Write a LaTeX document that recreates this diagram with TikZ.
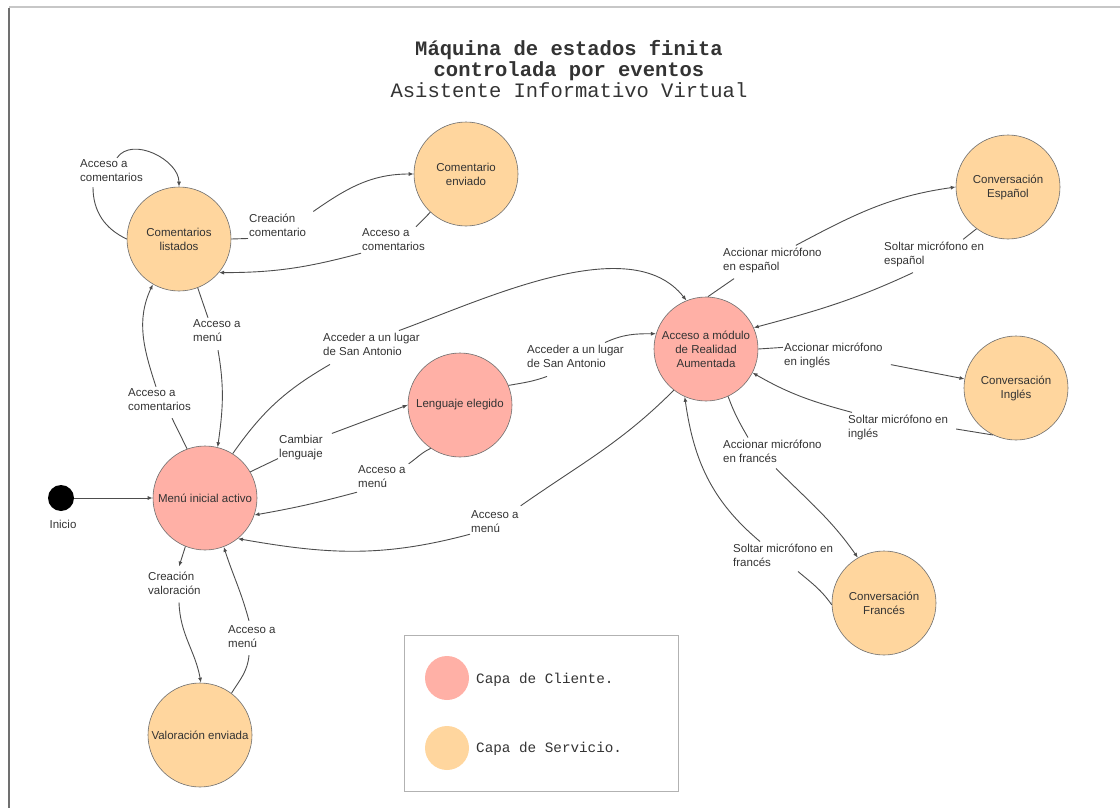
\documentclass[tikz,border=0pt]{standalone}
\usepackage{fontspec}
\setmainfont{Liberation Sans}
\newfontfamily\monofont{Liberation Mono}
\usetikzlibrary{arrows.meta}

\definecolor{cliente}{RGB}{255,176,166}
\definecolor{servicio}{RGB}{255,214,158}
\definecolor{ink}{RGB}{51,51,51}
\definecolor{wirecol}{RGB}{77,77,77}
\definecolor{rim}{RGB}{110,110,110}

\tikzset{
  state/.style={circle, draw=rim, line width=0.6pt, minimum size=104pt, inner sep=0pt,
    align=center, font=\fontsize{11.5}{14}\selectfont, text=ink},
  client/.style={state, fill=cliente},
  service/.style={state, fill=servicio},
  lbl/.style={font=\fontsize{11.5}{14}\selectfont, text=ink, align=left,
    inner xsep=1pt, inner ysep=2pt, anchor=west},
  conn/.style={draw=wirecol, line width=0.9pt},
  arr/.style={conn, -{Latex[length=5pt,width=4pt]}},
  legendtxt/.style={font=\monofont\fontsize{14.3}{16}\selectfont, text=ink, anchor=base west, inner sep=0pt},
}

\begin{document}
\begin{tikzpicture}[x=1pt,y=-1pt]
\useasboundingbox (0,0) rectangle (1120,808);

% page frame
\draw[color=black!22, line width=2pt] (9,7.5) -- (1120,7.5);
\draw[color=black!56, line width=1.2pt] (9,8) -- (9,808);

% title
\node[anchor=base, inner sep=0pt, text=ink, font=\monofont\bfseries\fontsize{20.5}{21}\selectfont] (t1) at (569,56) {Máquina de estados finita};
\node[anchor=base, inner sep=0pt, text=ink, font=\monofont\bfseries\fontsize{20.5}{21}\selectfont] (t2) at (569,76.5) {controlada por eventos};
\node[anchor=base, inner sep=0pt, text=ink, font=\monofont\fontsize{20.5}{21}\selectfont] (t3) at (569,97) {Asistente Informativo Virtual};

% states
\node[service] (cl)   at (179,239) {Comentarios\\listados};
\node[service] (ce)   at (466,174) {Comentario\\enviado};
\node[client]  (le)   at (460,405) {Lenguaje elegido};
\node[client]  (menu) at (205,498) {Menú inicial activo};
\node[service] (val)  at (200,735) {Valoración enviada};
\node[client]  (ra)   at (706,349) {Acceso a módulo\\de Realidad\\Aumentada};
\node[service] (esp)  at (1008,187) {Conversación\\Español};
\node[service] (ing)  at (1016,388) {Conversación\\Inglés};
\node[service] (fr)   at (884,603) {Conversación\\Francés};

% initial state
\node[circle, fill=black, minimum size=26pt, inner sep=0pt] (inicio) at (61,498) {};
\node[font=\fontsize{11.5}{14}\selectfont, text=ink, inner sep=0pt] (iniciotxt) at (63,524) {Inicio};
\draw[arr] (inicio) -- (menu);

% transition labels
\node[lbl] (A) at (79,171)  {Acceso a\\comentarios};
\node[lbl] (B) at (248,225) {Creación\\comentario};
\node[lbl] (C) at (361,240) {Acceso a\\comentarios};
\node[lbl] (D) at (192,331) {Acceso a\\menú};
\node[lbl] (E) at (127,400) {Acceso a\\comentarios};
\node[lbl] (F) at (322,344) {Acceder a un lugar\\de San Antonio};
\node[lbl] (G) at (278,448) {Cambiar\\lenguaje};
\node[lbl] (H) at (357,477) {Acceso a\\menú};
\node[lbl] (I) at (526,356) {Acceder a un lugar\\de San Antonio};
\node[lbl] (J) at (470,522) {Acceso a\\menú};
\node[lbl] (K) at (722,260) {Accionar micrófono\\en español};
\node[lbl] (L) at (883,254) {Soltar micrófono en\\español};
\node[lbl] (M) at (783,355) {Accionar micrófono\\en inglés};
\node[lbl] (N) at (847,427) {Soltar micrófono en\\inglés};
\node[lbl] (O) at (722,451) {Accionar micrófono\\en francés};
\node[lbl] (P) at (732,555) {Soltar micrófono en\\francés};
\node[lbl] (Q) at (147,583) {Creación\\valoración};
\node[lbl] (R) at (227,637) {Acceso a\\menú};

% Comentarios listados: self loop
\draw[conn] (cl.180) to[out=155, in=270] ([xshift=14pt, yshift=-3pt]A.south west);
\draw[arr]  ([xshift=38pt]A.north west) to[out=55, in=90] (cl.90);

% Comentarios listados <-> Comentario enviado
\draw[conn] (cl.0) -- (B.south west);
\draw[arr]  ([xshift=6pt]B.north east) to[out=35, in=180] (ce.180);
\draw[conn] (ce.227) -- ([xshift=-10pt]C.north east);
\draw[arr]  (C.south west) to[out=195, in=0] (cl.-40);

% Comentarios listados <-> Menú
\draw[conn] (cl.-69) -- ([xshift=16pt]D.north west);
\draw[arr]  ([xshift=26pt, yshift=-6pt]D.south west) to[out=-80, in=82] (menu.76);
\draw[conn] (menu.110) -- ([xshift=45pt, yshift=-5pt]E.south west);
\draw[arr]  ([xshift=29pt]E.north west) to[out=108, in=245] (cl.240);

% Menú -> Realidad Aumentada
\draw[conn] (menu.58) to[out=55, in=210] ([xshift=8pt, yshift=-7pt]F.south west);
\draw[arr]  ([xshift=-22pt]F.north east) to[out=20, in=128, looseness=0.8] (ra.112);

% Menú <-> Lenguaje elegido
\draw[conn] (menu.30) -- ([yshift=4pt]G.south west);
\draw[arr]  ([xshift=8pt]G.north east) -- (le.180);
\draw[conn] (le.236) to[out=205, in=35] ([xshift=2pt]H.north east);
\draw[arr]  ([yshift=-2pt]H.south west) to[out=195, in=10] (menu.-19);

% Lenguaje elegido -> Realidad Aumentada
\draw[conn] (le.22) to[out=10, in=200] ([xshift=21pt, yshift=-7pt]I.south west);
\draw[arr]  ([xshift=-20pt]I.north east) to[out=25, in=180] (ra.163);

% Realidad Aumentada -> Menú
\draw[conn] (ra.232) to[out=225, in=35] ([xshift=1pt, yshift=3pt]J.north east);
\draw[arr]  ([yshift=1pt]J.south west) to[out=195, in=-10] (menu.-51);

% Realidad Aumentada <-> Conversación Español
\draw[conn] (ra.88) -- ([xshift=12pt, yshift=-4pt]K.south west);
\draw[arr]  ([xshift=-27pt]K.north east) to[out=28, in=188] (esp.180);
\draw[conn] (esp.233) -- ([xshift=-22pt]L.north east);
\draw[arr]  ([xshift=30pt, yshift=-4pt]L.south west) to[out=205, in=15] (ra.24);

% Realidad Aumentada <-> Conversación Inglés
\draw[conn] (ra.0) -- ([yshift=-7pt]M.north west);
\draw[arr]  ([xshift=7pt, yshift=5pt]M.south east) -- (ing.170);
\draw[conn] (ing.244) -- ([xshift=7pt, yshift=-2pt]N.east);
\draw[arr]  ([xshift=5pt]N.north west) to[out=165, in=-30] (ra.-27);

% Realidad Aumentada <-> Conversación Francés
\draw[conn] (ra.-65) to[out=-70, in=120] ([xshift=26pt]O.north west);
\draw[arr]  ([xshift=54pt, yshift=-4pt]O.south west) to[out=-45, in=125] (fr.120);
\draw[conn] (fr.182) to[out=125, in=-40] ([xshift=66pt, yshift=-3pt]P.south west);
\draw[arr]  ([xshift=28pt]P.north west) to[out=140, in=-82] (ra.246);

% Menú <-> Valoración enviada
\draw[arr]  (menu.248) -- ([xshift=32pt, yshift=3pt]Q.north west);
\draw[arr]  ([xshift=32pt, yshift=-6pt]Q.south west) to[out=-88, in=100] (val.89);
\draw[conn] (val.53) to[out=58, in=-95] ([xshift=22pt, yshift=-5pt]R.south west);
\draw[arr]  ([xshift=22pt, yshift=3pt]R.north west) to[out=105, in=-72] (menu.-69);

% legend
\node[draw=black!30, line width=1pt, minimum width=274pt, minimum height=156pt, inner sep=0pt] (legend) at (541,713) {};
\node[circle, fill=cliente, minimum size=44pt, inner sep=0pt] (keyc) at (447,678) {};
\node[circle, fill=servicio, minimum size=44pt, inner sep=0pt] (keys) at (447,748) {};
\node[legendtxt] (keyctxt) at (476,683) {Capa de Cliente.};
\node[legendtxt] (keystxt) at (476,752.5) {Capa de Servicio.};
\end{tikzpicture}
\end{document}
